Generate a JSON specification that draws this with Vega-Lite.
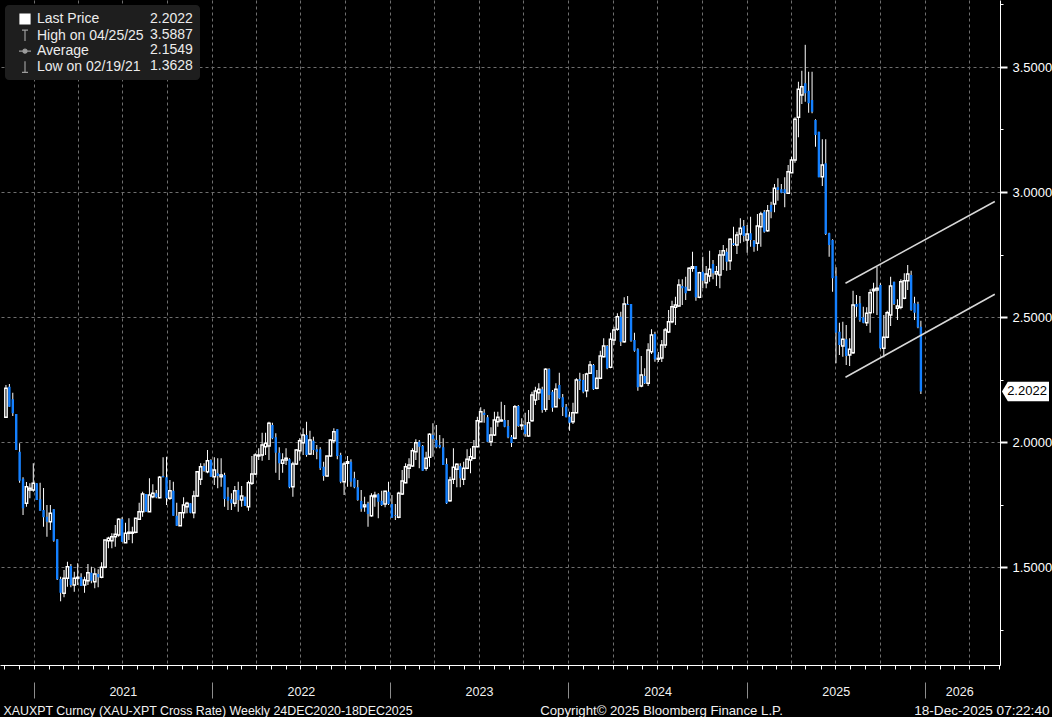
{
  "$schema": "https://vega.github.io/schema/vega-lite/v6.json",
  "width": 1000,
  "height": 665,
  "autosize": {"type": "none"},
  "padding": {"left": 0, "top": 0, "right": 52, "bottom": 52},
  "background": "#000000",
  "config": {"view": {"stroke": null}, "font": "Liberation Sans"},
  "datasets": {
    "bars": [
      {"d":"2020-10-30","o":2.099,"h":2.228,"l":2.099,"c":2.215},
      {"d":"2020-11-06","o":2.221,"h":2.232,"l":2.141,"c":2.141},
      {"d":"2020-11-13","o":2.171,"h":2.197,"l":2.104,"c":2.115},
      {"d":"2020-11-20","o":2.112,"h":2.112,"l":1.968,"c":1.968},
      {"d":"2020-11-27","o":1.961,"h":1.995,"l":1.837,"c":1.845},
      {"d":"2020-12-04","o":1.853,"h":1.859,"l":1.708,"c":1.735},
      {"d":"2020-12-11","o":1.755,"h":1.840,"l":1.741,"c":1.821},
      {"d":"2020-12-18","o":1.808,"h":1.835,"l":1.775,"c":1.815},
      {"d":"2020-12-25","o":1.808,"h":1.915,"l":1.801,"c":1.835},
      {"d":"2021-01-01","o":1.835,"h":1.835,"l":1.768,"c":1.768},
      {"d":"2021-01-08","o":1.771,"h":1.837,"l":1.725,"c":1.725},
      {"d":"2021-01-15","o":1.728,"h":1.816,"l":1.661,"c":1.699},
      {"d":"2021-01-22","o":1.701,"h":1.748,"l":1.621,"c":1.681},
      {"d":"2021-01-29","o":1.681,"h":1.748,"l":1.648,"c":1.715},
      {"d":"2021-02-05","o":1.731,"h":1.731,"l":1.601,"c":1.605},
      {"d":"2021-02-12","o":1.611,"h":1.611,"l":1.448,"c":1.451},
      {"d":"2021-02-19","o":1.452,"h":1.461,"l":1.3628,"c":1.397},
      {"d":"2021-02-26","o":1.395,"h":1.488,"l":1.379,"c":1.455},
      {"d":"2021-03-05","o":1.455,"h":1.521,"l":1.421,"c":1.501},
      {"d":"2021-03-12","o":1.504,"h":1.512,"l":1.419,"c":1.428},
      {"d":"2021-03-19","o":1.428,"h":1.481,"l":1.401,"c":1.455},
      {"d":"2021-03-26","o":1.455,"h":1.515,"l":1.428,"c":1.459},
      {"d":"2021-04-02","o":1.459,"h":1.475,"l":1.424,"c":1.424},
      {"d":"2021-04-09","o":1.428,"h":1.461,"l":1.397,"c":1.448},
      {"d":"2021-04-16","o":1.445,"h":1.512,"l":1.428,"c":1.477},
      {"d":"2021-04-23","o":1.477,"h":1.501,"l":1.435,"c":1.445},
      {"d":"2021-04-30","o":1.441,"h":1.495,"l":1.415,"c":1.472},
      {"d":"2021-05-07","o":1.472,"h":1.491,"l":1.419,"c":1.459},
      {"d":"2021-05-14","o":1.459,"h":1.519,"l":1.455,"c":1.499},
      {"d":"2021-05-21","o":1.499,"h":1.608,"l":1.495,"c":1.608},
      {"d":"2021-05-28","o":1.605,"h":1.621,"l":1.575,"c":1.615},
      {"d":"2021-06-04","o":1.605,"h":1.635,"l":1.575,"c":1.621},
      {"d":"2021-06-11","o":1.621,"h":1.668,"l":1.581,"c":1.631},
      {"d":"2021-06-18","o":1.628,"h":1.695,"l":1.621,"c":1.691},
      {"d":"2021-06-25","o":1.691,"h":1.699,"l":1.601,"c":1.601},
      {"d":"2021-07-02","o":1.597,"h":1.677,"l":1.597,"c":1.635},
      {"d":"2021-07-09","o":1.635,"h":1.695,"l":1.608,"c":1.639},
      {"d":"2021-07-16","o":1.635,"h":1.661,"l":1.595,"c":1.639},
      {"d":"2021-07-23","o":1.639,"h":1.695,"l":1.635,"c":1.695},
      {"d":"2021-07-30","o":1.691,"h":1.757,"l":1.691,"c":1.721},
      {"d":"2021-08-06","o":1.721,"h":1.801,"l":1.701,"c":1.792},
      {"d":"2021-08-13","o":1.792,"h":1.792,"l":1.721,"c":1.721},
      {"d":"2021-08-20","o":1.721,"h":1.855,"l":1.721,"c":1.788},
      {"d":"2021-08-27","o":1.781,"h":1.831,"l":1.775,"c":1.795},
      {"d":"2021-09-03","o":1.795,"h":1.808,"l":1.775,"c":1.779},
      {"d":"2021-09-10","o":1.777,"h":1.864,"l":1.775,"c":1.859},
      {"d":"2021-09-17","o":1.864,"h":1.939,"l":1.859,"c":1.859},
      {"d":"2021-09-24","o":1.859,"h":1.941,"l":1.748,"c":1.775},
      {"d":"2021-10-01","o":1.775,"h":1.848,"l":1.768,"c":1.805},
      {"d":"2021-10-08","o":1.805,"h":1.841,"l":1.705,"c":1.705},
      {"d":"2021-10-15","o":1.705,"h":1.757,"l":1.665,"c":1.665},
      {"d":"2021-10-22","o":1.665,"h":1.717,"l":1.665,"c":1.717},
      {"d":"2021-10-29","o":1.717,"h":1.779,"l":1.695,"c":1.748},
      {"d":"2021-11-05","o":1.741,"h":1.761,"l":1.715,"c":1.755},
      {"d":"2021-11-12","o":1.755,"h":1.755,"l":1.715,"c":1.717},
      {"d":"2021-11-19","o":1.717,"h":1.805,"l":1.695,"c":1.784},
      {"d":"2021-11-26","o":1.784,"h":1.881,"l":1.781,"c":1.881},
      {"d":"2021-12-03","o":1.851,"h":1.915,"l":1.828,"c":1.901},
      {"d":"2021-12-10","o":1.904,"h":1.915,"l":1.881,"c":1.885},
      {"d":"2021-12-17","o":1.881,"h":1.968,"l":1.875,"c":1.925},
      {"d":"2021-12-24","o":1.928,"h":1.931,"l":1.861,"c":1.861},
      {"d":"2021-12-31","o":1.861,"h":1.939,"l":1.828,"c":1.888},
      {"d":"2022-01-07","o":1.875,"h":1.935,"l":1.815,"c":1.864},
      {"d":"2022-01-14","o":1.861,"h":1.935,"l":1.821,"c":1.868},
      {"d":"2022-01-21","o":1.868,"h":1.877,"l":1.741,"c":1.772},
      {"d":"2022-01-28","o":1.781,"h":1.819,"l":1.728,"c":1.765},
      {"d":"2022-02-04","o":1.771,"h":1.795,"l":1.728,"c":1.755},
      {"d":"2022-02-11","o":1.755,"h":1.824,"l":1.741,"c":1.805},
      {"d":"2022-02-18","o":1.808,"h":1.841,"l":1.721,"c":1.768},
      {"d":"2022-02-25","o":1.768,"h":1.824,"l":1.741,"c":1.784},
      {"d":"2022-03-04","o":1.781,"h":1.781,"l":1.744,"c":1.744},
      {"d":"2022-03-11","o":1.741,"h":1.845,"l":1.725,"c":1.837},
      {"d":"2022-03-18","o":1.835,"h":1.944,"l":1.828,"c":1.872},
      {"d":"2022-03-25","o":1.872,"h":1.955,"l":1.868,"c":1.948},
      {"d":"2022-04-01","o":1.944,"h":1.975,"l":1.928,"c":1.948},
      {"d":"2022-04-08","o":1.948,"h":2.037,"l":1.925,"c":1.988},
      {"d":"2022-04-15","o":1.981,"h":2.037,"l":1.948,"c":1.995},
      {"d":"2022-04-22","o":1.984,"h":2.081,"l":1.928,"c":2.075},
      {"d":"2022-04-29","o":2.068,"h":2.077,"l":2.011,"c":2.015},
      {"d":"2022-05-06","o":2.019,"h":2.035,"l":1.877,"c":1.957},
      {"d":"2022-05-13","o":1.957,"h":1.979,"l":1.848,"c":1.915},
      {"d":"2022-05-20","o":1.915,"h":1.955,"l":1.877,"c":1.928},
      {"d":"2022-05-27","o":1.928,"h":1.975,"l":1.908,"c":1.935},
      {"d":"2022-06-03","o":1.931,"h":1.935,"l":1.815,"c":1.819},
      {"d":"2022-06-10","o":1.821,"h":1.921,"l":1.781,"c":1.912},
      {"d":"2022-06-17","o":1.912,"h":1.971,"l":1.908,"c":1.968},
      {"d":"2022-06-24","o":1.965,"h":2.015,"l":1.925,"c":2.005},
      {"d":"2022-07-01","o":1.997,"h":2.055,"l":1.948,"c":2.028},
      {"d":"2022-07-08","o":2.028,"h":2.081,"l":1.941,"c":1.948},
      {"d":"2022-07-15","o":1.952,"h":2.045,"l":1.948,"c":2.008},
      {"d":"2022-07-22","o":2.005,"h":2.021,"l":1.948,"c":1.968},
      {"d":"2022-07-29","o":1.971,"h":1.988,"l":1.931,"c":1.961},
      {"d":"2022-08-05","o":1.971,"h":1.979,"l":1.888,"c":1.895},
      {"d":"2022-08-12","o":1.901,"h":1.921,"l":1.845,"c":1.864},
      {"d":"2022-08-19","o":1.864,"h":1.944,"l":1.861,"c":1.944},
      {"d":"2022-08-26","o":1.944,"h":2.011,"l":1.941,"c":2.008},
      {"d":"2022-09-02","o":2.005,"h":2.055,"l":1.995,"c":2.041},
      {"d":"2022-09-09","o":2.051,"h":2.051,"l":1.931,"c":1.944},
      {"d":"2022-09-16","o":1.948,"h":1.957,"l":1.835,"c":1.841},
      {"d":"2022-09-23","o":1.841,"h":1.921,"l":1.788,"c":1.912},
      {"d":"2022-09-30","o":1.915,"h":1.944,"l":1.821,"c":1.921},
      {"d":"2022-10-07","o":1.921,"h":1.931,"l":1.821,"c":1.841},
      {"d":"2022-10-14","o":1.855,"h":1.881,"l":1.815,"c":1.819},
      {"d":"2022-10-21","o":1.819,"h":1.848,"l":1.765,"c":1.768},
      {"d":"2022-10-28","o":1.764,"h":1.808,"l":1.721,"c":1.733},
      {"d":"2022-11-04","o":1.741,"h":1.781,"l":1.721,"c":1.748},
      {"d":"2022-11-11","o":1.755,"h":1.761,"l":1.661,"c":1.712},
      {"d":"2022-11-18","o":1.705,"h":1.795,"l":1.701,"c":1.784},
      {"d":"2022-11-25","o":1.781,"h":1.801,"l":1.741,"c":1.787},
      {"d":"2022-12-02","o":1.791,"h":1.795,"l":1.695,"c":1.761},
      {"d":"2022-12-09","o":1.765,"h":1.805,"l":1.744,"c":1.748},
      {"d":"2022-12-16","o":1.752,"h":1.805,"l":1.739,"c":1.803},
      {"d":"2022-12-23","o":1.801,"h":1.841,"l":1.748,"c":1.752},
      {"d":"2022-12-30","o":1.752,"h":1.788,"l":1.697,"c":1.697},
      {"d":"2023-01-06","o":1.708,"h":1.752,"l":1.688,"c":1.705},
      {"d":"2023-01-13","o":1.699,"h":1.801,"l":1.695,"c":1.795},
      {"d":"2023-01-20","o":1.792,"h":1.888,"l":1.788,"c":1.844},
      {"d":"2023-01-27","o":1.837,"h":1.915,"l":1.835,"c":1.901},
      {"d":"2023-02-03","o":1.895,"h":1.935,"l":1.855,"c":1.908},
      {"d":"2023-02-10","o":1.904,"h":1.975,"l":1.901,"c":1.965},
      {"d":"2023-02-17","o":1.961,"h":2.011,"l":1.928,"c":1.997},
      {"d":"2023-02-24","o":2.001,"h":2.008,"l":1.895,"c":1.981},
      {"d":"2023-03-03","o":1.984,"h":1.988,"l":1.885,"c":1.885},
      {"d":"2023-03-10","o":1.895,"h":1.961,"l":1.885,"c":1.935},
      {"d":"2023-03-17","o":1.939,"h":2.035,"l":1.901,"c":2.031},
      {"d":"2023-03-24","o":2.028,"h":2.075,"l":1.941,"c":2.011},
      {"d":"2023-03-31","o":2.008,"h":2.068,"l":1.975,"c":1.979},
      {"d":"2023-04-07","o":1.988,"h":2.028,"l":1.975,"c":1.979},
      {"d":"2023-04-14","o":1.979,"h":2.015,"l":1.908,"c":1.908},
      {"d":"2023-04-21","o":1.912,"h":1.935,"l":1.752,"c":1.755},
      {"d":"2023-04-28","o":1.765,"h":1.861,"l":1.761,"c":1.848},
      {"d":"2023-05-05","o":1.851,"h":1.975,"l":1.832,"c":1.899},
      {"d":"2023-05-12","o":1.891,"h":1.915,"l":1.819,"c":1.911},
      {"d":"2023-05-19","o":1.904,"h":1.915,"l":1.819,"c":1.855},
      {"d":"2023-05-26","o":1.851,"h":1.921,"l":1.828,"c":1.895},
      {"d":"2023-06-02","o":1.895,"h":1.971,"l":1.891,"c":1.931},
      {"d":"2023-06-09","o":1.928,"h":1.975,"l":1.875,"c":1.941},
      {"d":"2023-06-16","o":1.935,"h":2.008,"l":1.931,"c":1.981},
      {"d":"2023-06-23","o":1.981,"h":2.101,"l":1.979,"c":2.085},
      {"d":"2023-06-30","o":2.081,"h":2.139,"l":2.081,"c":2.121},
      {"d":"2023-07-07","o":2.117,"h":2.131,"l":2.077,"c":2.108},
      {"d":"2023-07-14","o":2.099,"h":2.108,"l":2.001,"c":2.001},
      {"d":"2023-07-21","o":2.001,"h":2.059,"l":1.984,"c":2.028},
      {"d":"2023-07-28","o":2.028,"h":2.121,"l":2.024,"c":2.088},
      {"d":"2023-08-04","o":2.081,"h":2.121,"l":2.061,"c":2.099},
      {"d":"2023-08-11","o":2.084,"h":2.161,"l":2.081,"c":2.088},
      {"d":"2023-08-18","o":2.088,"h":2.148,"l":2.059,"c":2.061},
      {"d":"2023-08-25","o":2.064,"h":2.088,"l":2.015,"c":2.019},
      {"d":"2023-09-01","o":2.020,"h":2.028,"l":1.980,"c":1.996},
      {"d":"2023-09-08","o":2.015,"h":2.148,"l":2.011,"c":2.141},
      {"d":"2023-09-15","o":2.144,"h":2.148,"l":2.061,"c":2.064},
      {"d":"2023-09-22","o":2.065,"h":2.095,"l":2.048,"c":2.068},
      {"d":"2023-09-29","o":2.068,"h":2.117,"l":2.021,"c":2.032},
      {"d":"2023-10-06","o":2.024,"h":2.128,"l":2.021,"c":2.077},
      {"d":"2023-10-13","o":2.085,"h":2.201,"l":2.081,"c":2.188},
      {"d":"2023-10-20","o":2.168,"h":2.221,"l":2.148,"c":2.204},
      {"d":"2023-10-27","o":2.197,"h":2.235,"l":2.168,"c":2.211},
      {"d":"2023-11-03","o":2.211,"h":2.221,"l":2.117,"c":2.128},
      {"d":"2023-11-10","o":2.131,"h":2.295,"l":2.121,"c":2.291},
      {"d":"2023-11-17","o":2.291,"h":2.295,"l":2.168,"c":2.188},
      {"d":"2023-11-24","o":2.201,"h":2.208,"l":2.121,"c":2.137},
      {"d":"2023-12-01","o":2.141,"h":2.235,"l":2.139,"c":2.211},
      {"d":"2023-12-08","o":2.228,"h":2.277,"l":2.171,"c":2.175},
      {"d":"2023-12-15","o":2.179,"h":2.192,"l":2.104,"c":2.139},
      {"d":"2023-12-22","o":2.141,"h":2.152,"l":2.099,"c":2.099},
      {"d":"2023-12-29","o":2.101,"h":2.121,"l":2.045,"c":2.077},
      {"d":"2024-01-05","o":2.081,"h":2.157,"l":2.072,"c":2.117},
      {"d":"2024-01-12","o":2.117,"h":2.255,"l":2.115,"c":2.248},
      {"d":"2024-01-19","o":2.251,"h":2.277,"l":2.208,"c":2.244},
      {"d":"2024-01-26","o":2.248,"h":2.272,"l":2.195,"c":2.201},
      {"d":"2024-02-02","o":2.205,"h":2.277,"l":2.179,"c":2.272},
      {"d":"2024-02-09","o":2.275,"h":2.324,"l":2.272,"c":2.308},
      {"d":"2024-02-16","o":2.308,"h":2.312,"l":2.208,"c":2.211},
      {"d":"2024-02-23","o":2.215,"h":2.288,"l":2.211,"c":2.255},
      {"d":"2024-03-01","o":2.255,"h":2.365,"l":2.251,"c":2.344},
      {"d":"2024-03-08","o":2.341,"h":2.415,"l":2.339,"c":2.384},
      {"d":"2024-03-15","o":2.384,"h":2.388,"l":2.291,"c":2.295},
      {"d":"2024-03-22","o":2.299,"h":2.437,"l":2.295,"c":2.411},
      {"d":"2024-03-29","o":2.408,"h":2.461,"l":2.388,"c":2.448},
      {"d":"2024-04-05","o":2.451,"h":2.515,"l":2.445,"c":2.501},
      {"d":"2024-04-12","o":2.501,"h":2.521,"l":2.384,"c":2.401},
      {"d":"2024-04-19","o":2.401,"h":2.579,"l":2.397,"c":2.552},
      {"d":"2024-04-26","o":2.552,"h":2.584,"l":2.548,"c":2.548},
      {"d":"2024-05-03","o":2.552,"h":2.552,"l":2.401,"c":2.405},
      {"d":"2024-05-10","o":2.408,"h":2.437,"l":2.361,"c":2.365},
      {"d":"2024-05-17","o":2.371,"h":2.375,"l":2.205,"c":2.219},
      {"d":"2024-05-24","o":2.224,"h":2.344,"l":2.219,"c":2.268},
      {"d":"2024-05-31","o":2.264,"h":2.295,"l":2.232,"c":2.235},
      {"d":"2024-06-07","o":2.235,"h":2.395,"l":2.224,"c":2.368},
      {"d":"2024-06-14","o":2.361,"h":2.451,"l":2.352,"c":2.428},
      {"d":"2024-06-21","o":2.432,"h":2.441,"l":2.321,"c":2.331},
      {"d":"2024-06-28","o":2.331,"h":2.360,"l":2.320,"c":2.335},
      {"d":"2024-07-05","o":2.336,"h":2.408,"l":2.320,"c":2.388},
      {"d":"2024-07-12","o":2.388,"h":2.456,"l":2.376,"c":2.448},
      {"d":"2024-07-19","o":2.440,"h":2.528,"l":2.436,"c":2.481},
      {"d":"2024-07-26","o":2.481,"h":2.565,"l":2.475,"c":2.541},
      {"d":"2024-08-02","o":2.539,"h":2.581,"l":2.468,"c":2.548},
      {"d":"2024-08-09","o":2.544,"h":2.651,"l":2.541,"c":2.628},
      {"d":"2024-08-16","o":2.624,"h":2.651,"l":2.548,"c":2.615},
      {"d":"2024-08-23","o":2.621,"h":2.661,"l":2.568,"c":2.595},
      {"d":"2024-08-30","o":2.608,"h":2.699,"l":2.605,"c":2.695},
      {"d":"2024-09-06","o":2.695,"h":2.761,"l":2.681,"c":2.701},
      {"d":"2024-09-13","o":2.704,"h":2.704,"l":2.565,"c":2.579},
      {"d":"2024-09-20","o":2.579,"h":2.681,"l":2.575,"c":2.677},
      {"d":"2024-09-27","o":2.681,"h":2.741,"l":2.615,"c":2.645},
      {"d":"2024-10-04","o":2.637,"h":2.704,"l":2.615,"c":2.672},
      {"d":"2024-10-11","o":2.664,"h":2.765,"l":2.641,"c":2.691},
      {"d":"2024-10-18","o":2.712,"h":2.728,"l":2.651,"c":2.675},
      {"d":"2024-10-25","o":2.672,"h":2.704,"l":2.624,"c":2.681},
      {"d":"2024-11-01","o":2.668,"h":2.768,"l":2.615,"c":2.748},
      {"d":"2024-11-08","o":2.748,"h":2.788,"l":2.688,"c":2.765},
      {"d":"2024-11-15","o":2.761,"h":2.775,"l":2.685,"c":2.721},
      {"d":"2024-11-22","o":2.725,"h":2.815,"l":2.688,"c":2.811},
      {"d":"2024-11-29","o":2.795,"h":2.861,"l":2.784,"c":2.788},
      {"d":"2024-12-06","o":2.788,"h":2.841,"l":2.752,"c":2.828},
      {"d":"2024-12-13","o":2.832,"h":2.895,"l":2.795,"c":2.855},
      {"d":"2024-12-20","o":2.864,"h":2.888,"l":2.801,"c":2.824},
      {"d":"2024-12-27","o":2.808,"h":2.868,"l":2.757,"c":2.832},
      {"d":"2025-01-03","o":2.835,"h":2.901,"l":2.781,"c":2.808},
      {"d":"2025-01-10","o":2.805,"h":2.808,"l":2.761,"c":2.781},
      {"d":"2025-01-17","o":2.795,"h":2.912,"l":2.765,"c":2.864},
      {"d":"2025-01-24","o":2.861,"h":2.921,"l":2.781,"c":2.912},
      {"d":"2025-01-31","o":2.921,"h":2.928,"l":2.837,"c":2.841},
      {"d":"2025-02-07","o":2.845,"h":2.948,"l":2.841,"c":2.925},
      {"d":"2025-02-14","o":2.948,"h":2.961,"l":2.895,"c":2.921},
      {"d":"2025-02-21","o":2.952,"h":3.032,"l":2.919,"c":3.015},
      {"d":"2025-02-28","o":3.019,"h":3.055,"l":2.965,"c":3.008},
      {"d":"2025-03-07","o":3.011,"h":3.032,"l":2.995,"c":2.997},
      {"d":"2025-03-14","o":3.011,"h":3.059,"l":2.939,"c":2.995},
      {"d":"2025-03-21","o":2.995,"h":3.108,"l":2.992,"c":3.081},
      {"d":"2025-03-28","o":3.077,"h":3.141,"l":3.075,"c":3.128},
      {"d":"2025-04-04","o":3.128,"h":3.299,"l":3.117,"c":3.291},
      {"d":"2025-04-11","o":3.299,"h":3.441,"l":3.219,"c":3.411},
      {"d":"2025-04-18","o":3.388,"h":3.485,"l":3.352,"c":3.421},
      {"d":"2025-04-25","o":3.435,"h":3.5887,"l":3.361,"c":3.395},
      {"d":"2025-05-02","o":3.405,"h":3.481,"l":3.317,"c":3.355},
      {"d":"2025-05-09","o":3.368,"h":3.481,"l":3.315,"c":3.321},
      {"d":"2025-05-16","o":3.288,"h":3.291,"l":3.181,"c":3.228},
      {"d":"2025-05-23","o":3.241,"h":3.241,"l":3.059,"c":3.059},
      {"d":"2025-05-30","o":3.061,"h":3.211,"l":3.024,"c":3.108},
      {"d":"2025-06-06","o":3.115,"h":3.211,"l":2.828,"c":2.832},
      {"d":"2025-06-13","o":2.835,"h":2.837,"l":2.741,"c":2.788},
      {"d":"2025-06-20","o":2.808,"h":2.811,"l":2.601,"c":2.655},
      {"d":"2025-06-27","o":2.664,"h":2.699,"l":2.315,"c":2.437},
      {"d":"2025-07-04","o":2.441,"h":2.477,"l":2.348,"c":2.388},
      {"d":"2025-07-11","o":2.384,"h":2.481,"l":2.341,"c":2.411},
      {"d":"2025-07-18","o":2.411,"h":2.468,"l":2.308,"c":2.344},
      {"d":"2025-07-25","o":2.348,"h":2.415,"l":2.304,"c":2.371},
      {"d":"2025-08-01","o":2.357,"h":2.605,"l":2.352,"c":2.548},
      {"d":"2025-08-08","o":2.552,"h":2.588,"l":2.501,"c":2.541},
      {"d":"2025-08-15","o":2.555,"h":2.584,"l":2.481,"c":2.488},
      {"d":"2025-08-22","o":2.499,"h":2.541,"l":2.475,"c":2.477},
      {"d":"2025-08-29","o":2.477,"h":2.539,"l":2.464,"c":2.515},
      {"d":"2025-09-05","o":2.517,"h":2.611,"l":2.437,"c":2.597},
      {"d":"2025-09-12","o":2.605,"h":2.637,"l":2.515,"c":2.611},
      {"d":"2025-09-19","o":2.608,"h":2.701,"l":2.508,"c":2.615},
      {"d":"2025-09-26","o":2.628,"h":2.635,"l":2.371,"c":2.375},
      {"d":"2025-10-03","o":2.375,"h":2.508,"l":2.339,"c":2.419},
      {"d":"2025-10-10","o":2.419,"h":2.525,"l":2.415,"c":2.517},
      {"d":"2025-10-17","o":2.508,"h":2.661,"l":2.464,"c":2.624},
      {"d":"2025-10-24","o":2.641,"h":2.641,"l":2.548,"c":2.552},
      {"d":"2025-10-31","o":2.535,"h":2.571,"l":2.488,"c":2.544},
      {"d":"2025-11-07","o":2.539,"h":2.651,"l":2.531,"c":2.641},
      {"d":"2025-11-14","o":2.575,"h":2.675,"l":2.571,"c":2.645},
      {"d":"2025-11-21","o":2.645,"h":2.708,"l":2.608,"c":2.672},
      {"d":"2025-11-28","o":2.668,"h":2.685,"l":2.525,"c":2.528},
      {"d":"2025-12-05","o":2.555,"h":2.581,"l":2.488,"c":2.517},
      {"d":"2025-12-12","o":2.552,"h":2.561,"l":2.455,"c":2.459},
      {"d":"2025-12-18","o":2.461,"h":2.485,"l":2.192,"c":2.2022}
    ],
    "stats": [
      {"key":"Last Price","d":"2025-12-18","v":2.2022},
      {"key":"High on 04/25/25","d":"2025-04-25","v":3.5887},
      {"key":"Average","v":2.1549},
      {"key":"Low on 02/19/21","d":"2021-02-19","v":1.3628}
    ],
    "channel": [
      {"band":"upper","d":"2025-07-22","v":2.635},
      {"band":"upper","d":"2026-05-24","v":2.962},
      {"band":"lower","d":"2025-07-22","v":2.259},
      {"band":"lower","d":"2026-05-24","v":2.591}
    ]
  },
  "layer": [
    {
      "data": {"name": "bars"},
      "mark": {"type": "rule", "color": "#ffffff", "strokeWidth": 1, "xOffset": 2.7},
      "encoding": {
        "x": {
          "field": "d", "type": "temporal",
          "scale": {"domain": [{"year": 2020, "month": 11, "date": 2, "hours": 13, "minutes": 30}, {"year": 2026, "month": 5, "date": 24, "hours": 10}], "nice": false},
          "axis": {"orient": "bottom", "title": null, "labels": false, "grid": false, "ticks": true, "tickCount": {"interval": "month", "step": 1}, "tickSize": 4, "tickColor": "#ffffff", "domainColor": "#ffffff", "domainWidth": 1}
        },
        "y": {
          "field": "l", "type": "quantitative",
          "scale": {"domain": [1.108, 3.768], "nice": false, "zero": false},
          "axis": {
            "orient": "right", "title": null, "grid": false,
            "values": [1.25, 1.5, 1.75, 2, 2.25, 2.5, 2.75, 3, 3.25, 3.5, 3.75],
            "labelExpr": "(datum.value * 4) % 2 == 0 ? format(datum.value, '.4f') : ''",
            "tickSize": {"condition": {"test": "(datum.value * 4) % 2 == 0", "value": 7}, "value": 3},
            "tickWidth": {"condition": {"test": "(datum.value * 4) % 2 == 0", "value": 2}, "value": 1},
            "tickColor": "#ffffff", "domainColor": "#ffffff",
            "labelColor": "#ffffff", "labelFont": "Liberation Sans", "labelFontSize": 13, "labelPadding": 5
          }
        },
        "y2": {"field": "h"}
      }
    },
    {
      "data": {"name": "bars"},
      "mark": {"type": "bar", "width": 2.4, "xOffset": 2.7},
      "encoding": {
        "x": {
          "field": "d", "type": "temporal",
          "scale": {"domain": [{"year": 2020, "month": 11, "date": 2, "hours": 13, "minutes": 30}, {"year": 2026, "month": 5, "date": 24, "hours": 10}], "nice": false},
          "axis": {"orient": "bottom", "title": null, "labels": false, "ticks": false, "domain": false, "grid": true, "gridDash": [3, 3], "gridColor": "#6f6f6f", "tickCount": {"interval": "month", "step": 3}}
        },
        "y": {
          "field": "o", "type": "quantitative",
          "scale": {"domain": [1.108, 3.768], "nice": false, "zero": false},
          "axis": {
            "orient": "right", "values": [1.5, 2, 2.5, 3, 3.5],
            "grid": true, "gridDash": [3, 3], "gridColor": "#6f6f6f",
            "labels": false, "ticks": false, "domain": false,
            "title": "XAUXPT Curncy (XAU-XPT Cross Rate) Weekly 24DEC2020-18DEC2025",
            "titleAngle": 0, "titleX": -997, "titleY": 714, "titleAlign": "left", "titleBaseline": "alphabetic",
            "titleFont": "Liberation Sans", "titleFontSize": 12.4, "titleFontWeight": "normal", "titleColor": "#f2f2f2"
          }
        },
        "y2": {"field": "c"},
        "fill": {"condition": {"test": "datum.c >= datum.o", "value": "#000000"}, "value": "#1480ff"},
        "stroke": {"condition": {"test": "datum.c >= datum.o", "value": "#ffffff"}, "value": "#1480ff"},
        "strokeWidth": {"condition": {"test": "datum.c >= datum.o", "value": 1.4}, "value": 0}
      }
    },
    {
      "data": {"name": "channel"},
      "mark": {"type": "line", "color": "#d8d8d8", "strokeWidth": 1.5},
      "encoding": {
        "x": {
          "field": "d", "type": "temporal",
          "scale": {"domain": [{"year": 2020, "month": 11, "date": 2, "hours": 13, "minutes": 30}, {"year": 2026, "month": 5, "date": 24, "hours": 10}], "nice": false},
          "axis": {
            "orient": "bottom",
            "values": [{"year": 2021, "month": 7, "date": 2}, {"year": 2022, "month": 7, "date": 2}, {"year": 2023, "month": 7, "date": 2}, {"year": 2024, "month": 7, "date": 2}, {"year": 2025, "month": 7, "date": 2}, {"year": 2026, "month": 3, "date": 12}],
            "format": "%Y", "ticks": false, "domain": false, "grid": false,
            "labelPadding": 20, "labelColor": "#f2f2f2", "labelFont": "Liberation Sans", "labelFontSize": 12.5, "labelOverlap": false, "labelFlush": false,
            "title": "Copyright© 2025 Bloomberg Finance L.P.",
            "titleX": 661, "titleY": 49, "titleAlign": "center", "titleBaseline": "alphabetic",
            "titleFont": "Liberation Sans", "titleFontSize": 13.2, "titleFontWeight": "normal", "titleColor": "#f2f2f2"
          }
        },
        "y": {"field": "v", "type": "quantitative", "scale": {"domain": [1.108, 3.768], "nice": false, "zero": false}, "axis": null},
        "detail": {"field": "band"}
      }
    },
    {
      "data": {"name": "stats"},
      "mark": {"type": "point", "filled": true, "opacity": 0},
      "encoding": {
        "x": {
          "field": "d", "type": "temporal",
          "scale": {"domain": [{"year": 2020, "month": 11, "date": 2, "hours": 13, "minutes": 30}, {"year": 2026, "month": 5, "date": 24, "hours": 10}], "nice": false},
          "axis": {
            "orient": "bottom",
            "values": [{"year": 2021, "month": 1, "date": 1}, {"year": 2022, "month": 1, "date": 1}, {"year": 2023, "month": 1, "date": 1}, {"year": 2024, "month": 1, "date": 1}, {"year": 2025, "month": 1, "date": 1}, {"year": 2026, "month": 1, "date": 1}],
            "labels": false, "domain": false, "grid": false, "ticks": true, "tickSize": 16, "tickColor": "#8c8c8c", "offset": 17,
            "title": "18-Dec-2025 07:22:40",
            "titleX": 1049, "titleY": 32, "titleAlign": "right", "titleBaseline": "alphabetic",
            "titleFont": "Liberation Sans", "titleFontSize": 13.6, "titleFontWeight": "normal", "titleColor": "#f2f2f2"
          }
        },
        "y": {"field": "v", "type": "quantitative", "scale": {"domain": [1.108, 3.768], "nice": false, "zero": false}, "axis": null},
        "shape": {
          "field": "key", "type": "nominal",
          "scale": {
            "domain": ["Last Price", "High on 04/25/25", "Average", "Low on 02/19/21"],
            "range": ["square", "M-0.6,-1.1L0.6,-1.1M0,-1.1L0,1.1", "M-1.2,0L1.2,0M-0.4,0A0.4,0.4,0,1,1,0.4,0A0.4,0.4,0,1,1,-0.4,0", "M0,-1.1L0,1.1M-0.6,1.1L0.6,1.1"]
          },
          "legend": {
            "title": null, "orient": "none", "legendX": 5, "legendY": 5, "zindex": 1,
            "padding": 7, "rowPadding": 0.6,
            "symbolOffset": 6, "labelOffset": 5, "symbolSize": 100, "symbolStrokeWidth": 1.2, "symbolOpacity": 1,
            "labelFont": "Liberation Sans", "labelFontSize": 14, "labelColor": "#ececec", "labelLimit": 300
          }
        },
        "fill": {
          "field": "key", "type": "nominal",
          "scale": {"domain": ["Last Price", "High on 04/25/25", "Average", "Low on 02/19/21"], "range": ["#ffffff", "transparent", "#9c9c9c", "transparent"]}
        },
        "stroke": {
          "field": "key", "type": "nominal",
          "scale": {"domain": ["Last Price", "High on 04/25/25", "Average", "Low on 02/19/21"], "range": ["#ffffff", "#9c9c9c", "#9c9c9c", "#9c9c9c"]}
        },
        "strokeDash": {
          "field": "v", "type": "ordinal",
          "scale": {"domain": [2.2022, 3.5887, 2.1549, 1.3628], "range": [[1, 0], [1, 0], [1, 0], [1, 0]]},
          "legend": {
            "title": null, "orient": "none", "legendX": 5, "legendY": 5, "zindex": 0, "format": ".4f",
            "fillColor": "#1e1e1e", "cornerRadius": 4,
            "padding": 7, "rowPadding": 1.6, "symbolSize": 100, "symbolOpacity": 0, "symbolStrokeWidth": 0, "symbolOffset": 120, "labelOffset": 4,
            "labelFont": "Liberation Sans", "labelFontSize": 14, "labelColor": "#ececec"
          }
        }
      }
    },
    {
      "data": {"name": "stats"},
      "transform": [{"filter": "datum.key == 'Last Price'"}],
      "mark": {"type": "point", "filled": true, "color": "#ffffff", "opacity": 1, "size": 9604, "shape": "M0.04,0L0.16,-0.2L1,-0.2L1,0.2L0.16,0.2Z"},
      "encoding": {
        "x": {"value": "width"},
        "y": {"field": "v", "type": "quantitative", "scale": {"domain": [1.108, 3.768], "nice": false, "zero": false}, "axis": null}
      }
    },
    {
      "data": {"name": "stats"},
      "transform": [{"filter": "datum.key == 'Last Price'"}],
      "mark": {"type": "text", "align": "center", "baseline": "middle", "dx": 27, "color": "#000000", "font": "Liberation Sans", "fontSize": 13},
      "encoding": {
        "x": {"value": "width"},
        "y": {"field": "v", "type": "quantitative", "scale": {"domain": [1.108, 3.768], "nice": false, "zero": false}, "axis": null},
        "text": {"field": "v", "type": "quantitative", "format": ".4f"}
      }
    }
  ],
  "resolve": {"axis": {"x": "independent", "y": "independent"}}
}
